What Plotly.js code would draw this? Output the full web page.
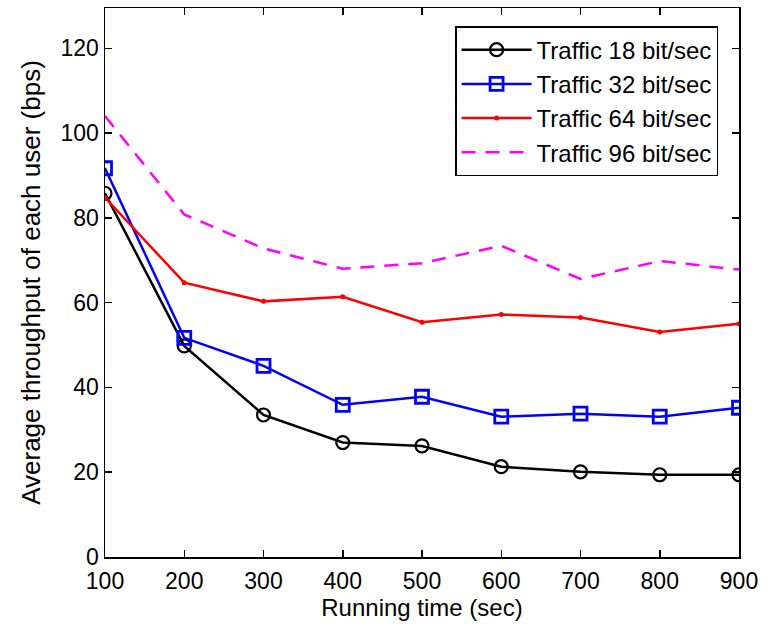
<!DOCTYPE html>
<html>
<head>
<meta charset="utf-8">
<script src="https://cdn.plot.ly/plotly-3.0.1.min.js"></script>
<style>html,body{margin:0;padding:0;background:#fff;}#chart{width:773px;height:624px;}</style>
</head>
<body>
<div id="chart"></div>
<script>
const runningTime = [100, 200, 300, 400, 500, 600, 700, 800, 900];
const traffic18 = [85.8, 49.8, 33.5, 27.0, 26.2, 21.3, 20.1, 19.4, 19.4];
const traffic32 = [91.7, 51.7, 45.1, 35.9, 37.8, 33.1, 33.8, 33.1, 35.2];
const traffic64 = [84.8, 64.7, 60.3, 61.4, 55.4, 57.2, 56.5, 53.1, 55.0];
const traffic96 = [104.0, 80.8, 72.8, 68.0, 69.3, 73.4, 65.6, 69.8, 67.8];
const seriesNames = ["Traffic 18 bit/sec", "Traffic 32 bit/sec", "Traffic 64 bit/sec", "Traffic 96 bit/sec"];
const yTicks = [0, 20, 40, 60, 80, 100, 120];

const traces = [
  {x: runningTime, y: traffic18, name: seriesNames[0], mode: 'lines+markers',
   line: {color: '#000000', width: 2.5},
   marker: {symbol: 'circle-open', size: 13, color: '#000000', line: {width: 2.2, color: '#000000'}}},
  {x: runningTime, y: traffic32, name: seriesNames[1], mode: 'lines+markers',
   line: {color: '#0000ff', width: 2.5},
   marker: {symbol: 'square-open', size: 13, color: '#0000ff', line: {width: 2.8, color: '#0000ff'}}},
  {x: runningTime, y: traffic64, name: seriesNames[2], mode: 'lines+markers',
   line: {color: '#ff0000', width: 2.5},
   marker: {symbol: 'circle', size: 5, color: '#ff0000'}},
  {x: runningTime, y: traffic96, name: seriesNames[3], mode: 'lines',
   line: {color: '#ff00ff', width: 2.5, dash: '14px,10px'}}
];

const layout = {
  width: 773, height: 624,
  margin: {l: 105, r: 34, t: 8, b: 67},
  paper_bgcolor: '#ffffff', plot_bgcolor: '#ffffff',
  font: {family: '"Liberation Sans", Arial, sans-serif', color: '#000000', size: 23},
  showlegend: true,
  legend: {
    x: 0.967, y: 0.967, xanchor: 'right', yanchor: 'top',
    bordercolor: '#000000', borderwidth: 1.5, bgcolor: '#ffffff',
    font: {size: 24}, itemwidth: 70, tracegroupgap: 0
  },
  xaxis: {
    range: [100, 900], tickvals: runningTime, ticktext: runningTime.map(String),
    ticks: 'inside', ticklen: 7, tickwidth: 1.5, tickcolor: '#000000',
    showline: true, linecolor: '#000000', linewidth: 1.5, mirror: 'ticks',
    showgrid: false, zeroline: false,
    tickfont: {size: 23}, ticklabelstandoff: 3,
    title: {text: 'Running time (sec)', font: {size: 24}, standoff: 6}
  },
  yaxis: {
    range: [0, 129.5], tickvals: yTicks, ticktext: yTicks.map(String),
    ticks: 'inside', ticklen: 7, tickwidth: 1.5, tickcolor: '#000000',
    showline: true, linecolor: '#000000', linewidth: 1.5, mirror: 'ticks',
    showgrid: false, zeroline: false,
    tickfont: {size: 23},
    title: {text: 'Average throughput of each user (bps)', font: {size: 26}, standoff: 12}
  }
};

Plotly.newPlot('chart', traces, layout, {displayModeBar: false, staticPlot: true});
</script>
</body>
</html>
